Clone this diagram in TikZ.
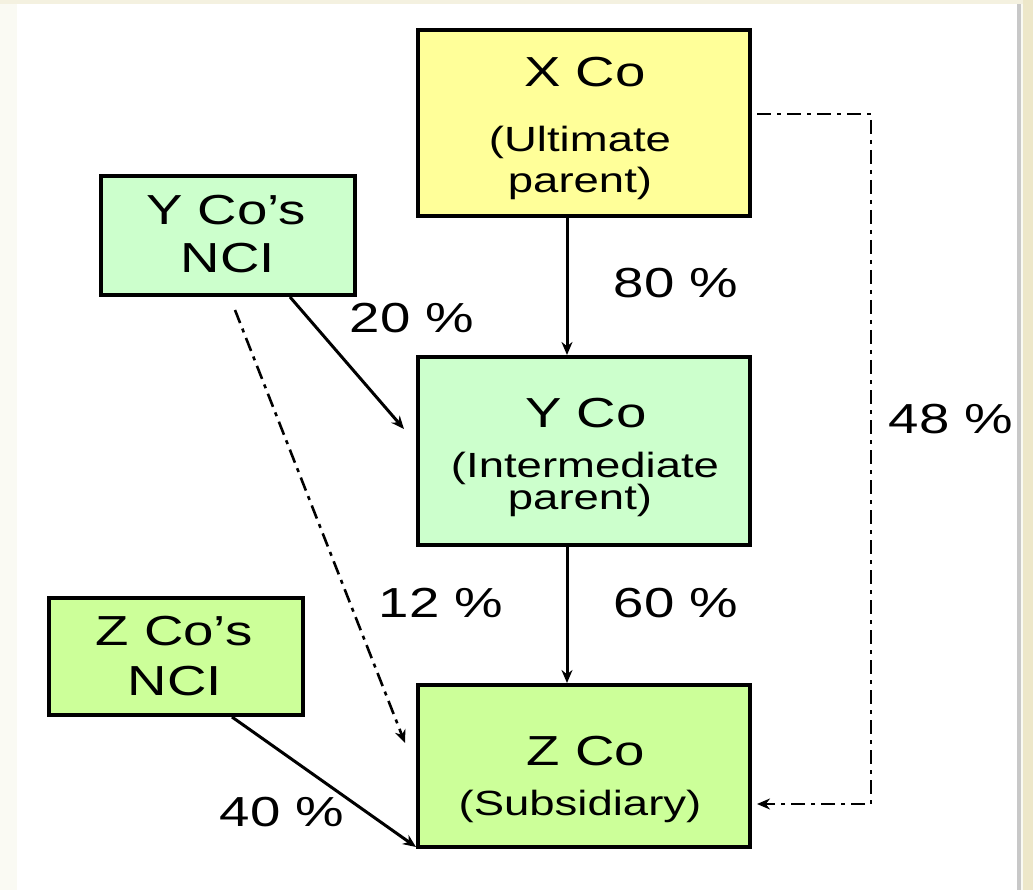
\documentclass[tikz,border=0pt]{standalone}
\usepackage{fontspec}
\usetikzlibrary{arrows.meta}
\newfontfamily\dfont[FakeStretch=1.3]{Liberation Sans}
\definecolor{pageedge}{HTML}{FAFAF3}
\definecolor{topedge}{HTML}{F4F1E0}
\definecolor{sidegray}{HTML}{C8C8C8}
\definecolor{sidebeige}{HTML}{EDE7C9}
\definecolor{boxyellow}{HTML}{FFFF99}
\definecolor{boxmint}{HTML}{CCFFCC}
\definecolor{boxlime}{HTML}{CCFF99}
\tikzset{
  co/.style={draw=black, line width=4pt, rectangle, inner sep=0pt},
  title/.style={font=\dfont\fontsize{42}{42}\selectfont, anchor=base, inner sep=0pt},
  sub/.style={font=\dfont\fontsize{35}{35}\selectfont, anchor=base, inner sep=0pt},
  pct/.style={font=\dfont\fontsize{42}{42}\selectfont, anchor=base, inner sep=0pt},
  own/.style={draw=black, line width=3pt, -{Stealth[length=13pt,width=11pt]}},
  indirect/.style={draw=black, line width=2.6pt,
    dash pattern=on 14pt off 6pt on 4pt off 6pt,
    -{Stealth[length=13pt,width=11pt]}}
}
\begin{document}
\begin{tikzpicture}[x=1pt,y=-1pt]
% page and frame
\fill[pageedge] (0,0) rectangle (1033,890);
\fill[topedge] (0,0) rectangle (1033,4);
\fill[white] (17,4) rectangle (1017,890);
\fill[sidegray] (1017,4) rectangle (1021,890);
\fill[sidebeige] (1023,0) rectangle (1033,890);
\useasboundingbox (0,0) rectangle (1033,890);

% companies
\node[co, fill=boxyellow, minimum width=332pt, minimum height=186pt] (xco) at (584,123) {};
\node[co, fill=boxmint, minimum width=254pt, minimum height=119pt] (ynci) at (228,235.5) {};
\node[co, fill=boxmint, minimum width=332pt, minimum height=188pt] (yco) at (584,451) {};
\node[co, fill=boxlime, minimum width=254pt, minimum height=117pt] (znci) at (176,656.5) {};
\node[co, fill=boxlime, minimum width=332pt, minimum height=162pt] (zco) at (584,766) {};

% box texts
\node[title] (xcot) at (585,87) {X Co};
\node[sub] (xcos1) at (580,152) {(Ultimate};
\node[sub] (xcos2) at (580,193) {parent)};
\node[title] (yncit1) at (226,225) {Y Co’s};
\node[title] (yncit2) at (228,273) {NCI};
\node[title] (ycot) at (586,427) {Y Co};
\node[sub] (ycos1) at (585,477) {(Intermediate};
\node[sub] (ycos2) at (580,509) {parent)};
\node[title] (zncit1) at (174,645) {Z Co’s};
\node[title] (zncit2) at (175,695) {NCI};
\node[title] (zcot) at (586,765) {Z Co};
\node[sub] (zcos1) at (580,815) {(Subsidiary)};

% percentages
\node[pct] (p80) at (676,298) {80 \%};
\node[pct] (p20) at (412,333) {20 \%};
\node[pct] (p48) at (951,433) {48 \%};
\node[pct] (p12) at (441,617) {12 \%};
\node[pct] (p60) at (676,617) {60 \%};
\node[pct] (p40) at (282,826) {40 \%};

% direct holdings
\draw[own] ([xshift=-17pt]xco.south) -- ([xshift=-17pt]yco.north);
\draw[own] ([xshift=-17pt]yco.south) -- ([xshift=-17pt]zco.north);
\coordinate (yin) at (404,429);
\draw[own] (ynci.south -| 290,0) -- (yin);
\coordinate (zin) at (416,847);
\draw[own] (znci.south -| 232,0) -- (zin);

% indirect holdings
\coordinate (ystart) at (235,310);
\coordinate (zin2) at (405,743);
\draw[indirect] (ystart) -- (zin2);
\coordinate (xout) at (757,114);
\coordinate (zin3) at (757,804);
\draw[indirect] (xout) -- (871,114) -- (871,804) -- (zin3);
\end{tikzpicture}
\end{document}
